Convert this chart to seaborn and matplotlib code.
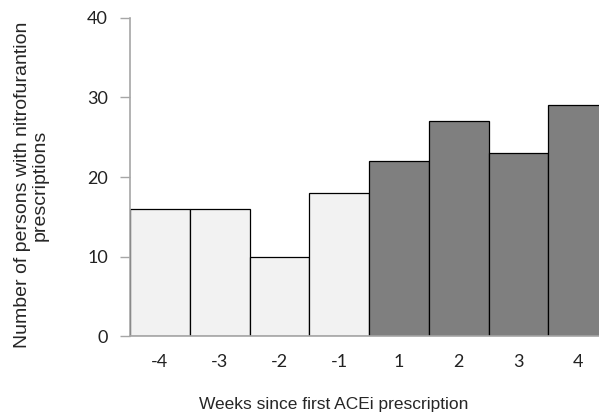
import numpy as np
import pandas as pd
import matplotlib
matplotlib.use("Agg")
import matplotlib.pyplot as plt
import seaborn as sns

weeks = ["-4", "-3", "-2", "-1", "1", "2", "3", "4"]
persons = [16, 16, 10, 18, 22, 27, 23, 29]
period = ["before", "before", "before", "before", "after", "after", "after", "after"]

df = pd.DataFrame({"week": weeks, "persons": persons, "period": period})

sns.set_style("white")
plt.rcParams["font.family"] = ["Lato", "DejaVu Sans"]

fig = plt.figure(figsize=(5.99, 4.15), dpi=100)
ax = fig.add_axes([130 / 599, 79 / 415, 478 / 599, 318 / 415])

sns.barplot(data=df, x="week", y="persons", hue="period", order=weeks,
            palette={"before": "#f2f2f2", "after": "#7f7f7f"},
            width=1.0, dodge=False, edgecolor="black", linewidth=0.9,
            legend=False, ax=ax)

ax.set_ylim(0, 40)
ax.set_xlim(-0.5, 7.5)
ax.set_yticks([0, 10, 20, 30, 40])
ax.tick_params(axis="y", direction="out", length=7, width=1, color="#a6a6a6",
               labelsize=13, pad=9, left=True, labelcolor="#222222")
ax.tick_params(axis="x", length=0, labelsize=13, pad=13, labelcolor="#222222")
for s in ["top", "right"]:
    ax.spines[s].set_visible(False)
for s in ["left", "bottom"]:
    ax.spines[s].set_color("#a6a6a6")
    ax.spines[s].set_linewidth(1.2)

ax.set_xlabel("")
ax.set_ylabel("")
arial = ["Liberation Sans", "DejaVu Sans"]
fig.text(334 / 599, 1 - 404 / 415, "Weeks since first ACEi prescription",
         ha="center", va="center", fontsize=12.5, family=arial)
fig.text(31 / 599, 1 - 185 / 415,
         "Number of persons with nitrofurantion\nprescriptions",
         ha="center", va="center", rotation=90, fontsize=14,
         family=arial, linespacing=1.05)

fig.savefig("out.png", dpi=100)
